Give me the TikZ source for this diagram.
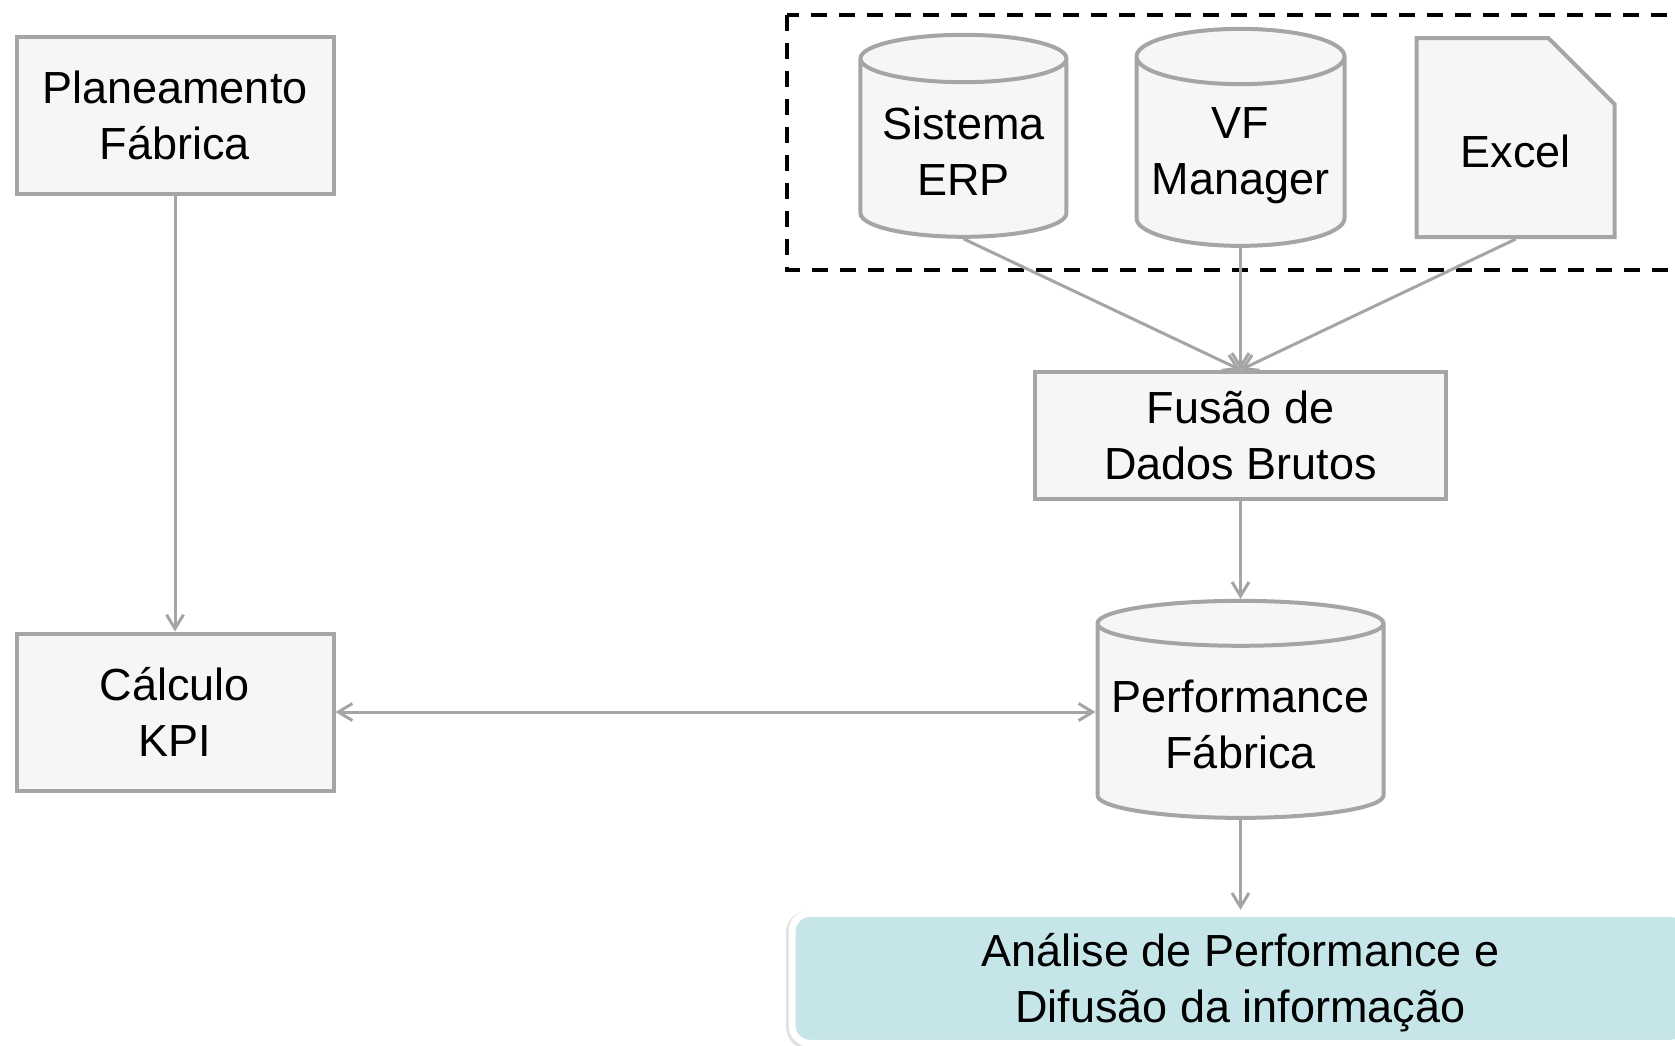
\documentclass[tikz,border=0pt]{standalone}
\usepackage{fontspec}
\setmainfont{Liberation Sans}
\usetikzlibrary{positioning,shapes.geometric,shapes.misc,arrows.meta}
\definecolor{cinza}{HTML}{A5A5A5}
\definecolor{fundo}{HTML}{F6F6F6}
\definecolor{turquesa}{HTML}{C5E5E8}

\begin{document}
\begin{tikzpicture}[x=1pt, y=1pt, every node/.style={align=center, font=\fontsize{45}{56}\selectfont}, line width=3pt, draw=cinza, >={Straight Barb[length=14pt,width=17pt]}]

\tikzstyle{caixa}=[rectangle, draw=cinza, fill=fundo, line width=4pt]
\tikzstyle{cilindro}=[cylinder, shape border rotate=90, draw=cinza, fill=fundo, line width=4pt]
\tikzstyle{documento}=[chamfered rectangle, chamfered rectangle corners=north east, chamfered rectangle sep=33pt, draw=cinza, fill=fundo, line width=4pt]
\tikzstyle{destaque}=[rectangle, rounded corners=18pt, draw=white, fill=turquesa, line width=7pt]

\useasboundingbox (0,0) rectangle (1675,-1045);

% lado do planeamento
\node[caixa, minimum width=317pt, minimum height=157pt] (planeamento) at (175,-115) {Planeamento\\Fábrica};
\node[caixa, minimum width=317pt, minimum height=157pt, below=436pt of planeamento] (calculo) {Cálculo\\KPI};

% fontes de dados
\node[cilindro, minimum width=286pt, minimum height=217pt, aspect=0.17, right=760pt of calculo, yshift=-12pt] (performance) {Performance\\Fábrica};
\node[caixa, minimum width=411pt, minimum height=127pt, above=98pt of performance] (fusao) {Fusão de\\Dados Brutos};
\node[cilindro, minimum width=208pt, minimum height=217pt, aspect=0.3, above=122pt of fusao] (vf) {VF\\Manager};
\node[cilindro, minimum width=206pt, minimum height=202pt, aspect=0.28, left=66pt of vf, yshift=4pt] (erp) {Sistema\\ERP};
\node[documento, minimum width=198pt, minimum height=199pt, text height=60pt, right=68pt of vf, yshift=18pt] (excel) {Excel};
\node[destaque, minimum width=897pt, minimum height=130pt, text depth=0pt, below=90pt of performance,
  preaction={draw=black!12, line width=9pt, transform canvas={shift={(-1.5pt,-1.5pt)}}}] (analise) {Análise de Performance e\\Difusão da informação};

\draw[black, line width=4pt, dash pattern=on 16pt off 12pt] (787,-15) rectangle (1700,-270);

% ligacoes
\draw[->] (planeamento) -- (calculo);
\draw[<->] (calculo.east) -- (calculo.east -| performance.west);
\draw[->] (erp.south) -- (fusao.north);
\draw[->] (vf.south) -- (fusao.north);
\draw[->] (excel.south) -- (fusao.north);
\draw[->] (fusao) -- (performance);
\draw[->] (performance) -- (analise);

\end{tikzpicture}
\end{document}
